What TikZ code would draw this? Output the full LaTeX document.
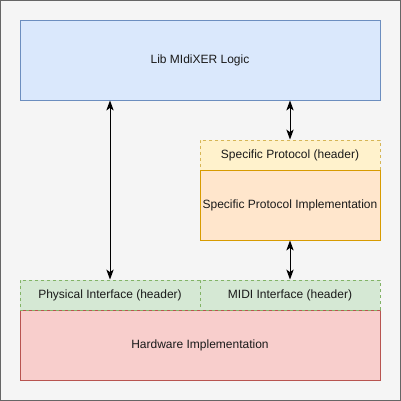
\documentclass[tikz,border=0pt]{standalone}
\usepackage{fontspec}
\setmainfont{Liberation Sans}
\usetikzlibrary{arrows.meta}
\definecolor{bgfill}{HTML}{F5F5F5}
\definecolor{bgline}{HTML}{666666}
\definecolor{bluefill}{HTML}{DAE8FC}
\definecolor{blueline}{HTML}{6C8EBF}
\definecolor{yelfill}{HTML}{FFF2CC}
\definecolor{yelline}{HTML}{D6B656}
\definecolor{orfill}{HTML}{FFE6CC}
\definecolor{orline}{HTML}{D79B00}
\definecolor{grfill}{HTML}{D5E8D4}
\definecolor{grline}{HTML}{82B366}
\definecolor{redfill}{HTML}{F8CECC}
\definecolor{redline}{HTML}{B85450}
\definecolor{txt}{HTML}{1A1A1A}
\begin{document}
\begin{tikzpicture}[x=0.75pt,y=-0.75pt,
  box/.style={draw, line width=0.75pt, inner sep=0pt, text=txt, font=\fontsize{9}{11}\selectfont},
  hdr/.style={box, dash pattern=on 2.25pt off 2.25pt},
  arr/.style={line width=0.75pt, {Stealth[length=7.5pt,width=5.5pt,inset=2pt]}-{Stealth[length=7.5pt,width=5.5pt,inset=2pt]}}]
\useasboundingbox (0,0) rectangle (401,401);
\draw[fill=bgfill, draw=bgline, line width=0.75pt] (0.5,0.5) rectangle (400.5,400.5);
\node[box, fill=bluefill, draw=blueline, minimum width=360*0.75pt, minimum height=80*0.75pt] (logic) at (200,60) {Lib MIdiXER Logic};
\node[hdr, fill=yelfill, draw=yelline, minimum width=180*0.75pt, minimum height=30*0.75pt] (sph) at (290,155) {Specific Protocol (header)};
\node[box, fill=orfill, draw=orline, minimum width=180*0.75pt, minimum height=70*0.75pt] (spi) at (290,205) {Specific Protocol Implementation};
\node[box, fill=redfill, draw=redline, minimum width=360*0.75pt, minimum height=70*0.75pt] (hw) at (200,345) {Hardware Implementation};
\node[hdr, fill=grfill, draw=grline, minimum width=180*0.75pt, minimum height=30*0.75pt] (phy) at (110,295) {Physical Interface (header)};
\node[hdr, fill=grfill, draw=grline, minimum width=180*0.75pt, minimum height=30*0.75pt] (midi) at (290,295) {MIDI Interface (header)};
\draw[arr] (phy.north) -- (phy.north |- logic.south);
\draw[arr] (sph.north) -- (sph.north |- logic.south);
\draw[arr] (midi.north) -- (spi.south);
\end{tikzpicture}
\end{document}
